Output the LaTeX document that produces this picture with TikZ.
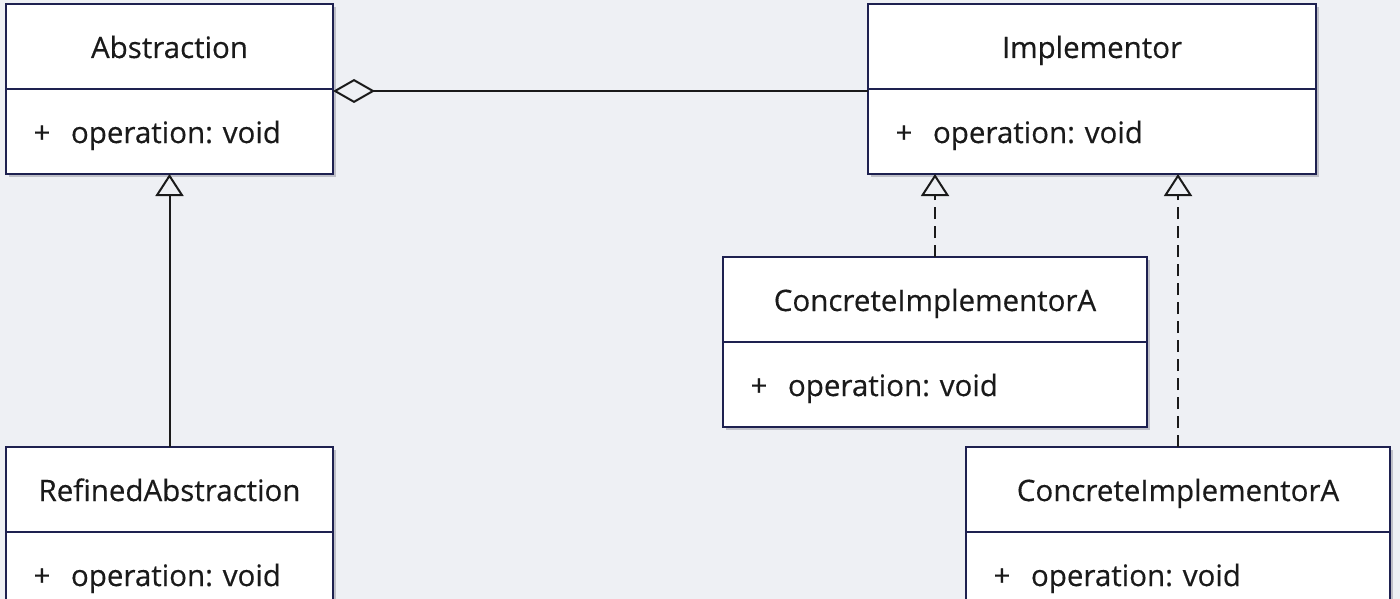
\documentclass[tikz,border=0pt]{standalone}
\usepackage{fontspec}
\setmainfont[FakeBold=0.4]{Open Sans}
\usetikzlibrary{arrows.meta,shadows}
\definecolor{bg}{HTML}{EEF0F4}
\definecolor{edge}{HTML}{1E2150}
\definecolor{shade}{HTML}{BFC0C8}
\definecolor{ink}{HTML}{1A1A1A}
\frenchspacing
\begin{document}
\begin{tikzpicture}[x=1pt,y=-1pt,
  font=\fontsize{29.5}{34}\selectfont,
  cls/.style={draw=edge, line width=1.8pt, fill=white, inner sep=0pt, outer sep=0pt,
    minimum height=85pt, text=ink, text height=23pt, text depth=0pt,
    drop shadow={shadow xshift=3pt, shadow yshift=-3pt, fill=shade, opacity=1}},
  title/.style={cls, minimum width=#1},
  ops/.style={cls, anchor=north, align=left, text width=#1},
  conn/.style={draw=ink, line width=2pt},
  inherit/.style={conn, -{Triangle[open, width=28pt, length=22pt]}},
  realize/.style={inherit, dash pattern=on 12pt off 7pt},
  aggr/.style={conn, {Diamond[open, width=24pt, length=42pt]}-}
]
\useasboundingbox (0,0) rectangle (1400,599);
\clip (0,0) rectangle (1400,599);
\fill[bg] (0,0) rectangle (1400,599);

\newcommand{\opline}{\hspace*{20pt}\makebox[32pt]{+}\hspace{13pt}operation: void}

% Abstraction
\node[title=327pt] (absT) at (169.5,46.5) {Abstraction};
\node[ops=327pt] (absO) at (absT.south) {\opline};

% Implementor
\node[title=448pt] (impT) at (1092,46.5) {Implementor};
\node[ops=448pt] (impO) at (impT.south) {\opline};

% RefinedAbstraction
\node[title=327pt] (refT) at (169.5,489.5) {RefinedAbstraction};
\node[ops=327pt] (refO) at (refT.south) {\opline};

% ConcreteImplementorA (1)
\node[title=424pt] (ciaT) at (935,299.5) {ConcreteImplementorA};
\node[ops=424pt] (ciaO) at (ciaT.south) {\opline};

% ConcreteImplementorA (2)
\node[title=424pt] (cibT) at (1178,489.5) {ConcreteImplementorA};
\node[ops=424pt] (cibO) at (cibT.south) {\opline};

% connectors
\draw[aggr] ([yshift=-2pt]absT.south east) -- ([yshift=-2pt]impT.south west);
\draw[inherit] (refT.north) -- (absO.south);
\draw[realize] (ciaT.north) -- (ciaT.north |- impO.south);
\draw[realize] (cibT.north) -- (cibT.north |- impO.south);
\end{tikzpicture}
\end{document}
